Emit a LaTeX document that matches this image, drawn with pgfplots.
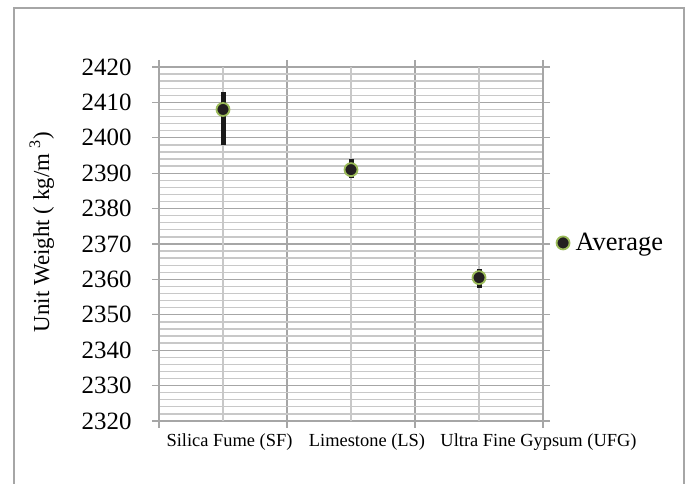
\documentclass[border=0pt]{standalone}
\usepackage{pgfplots}
\pgfplotsset{compat=1.18}
\usepackage{fontspec}
\setmainfont{Liberation Serif}
\definecolor{majgrid}{HTML}{A6A6A6}
\definecolor{mingrid}{HTML}{C8C8C8}
\definecolor{mkgreen}{HTML}{9BBB59}
\definecolor{mkfill}{HTML}{231F20}
\definecolor{barblack}{HTML}{1A1A1A}
\pgfplotstableread{
x y ep em
0 2408 5 10
1 2391 3 2.5
2 2360.5 2.5 3
}\avgdata
\begin{document}
\begin{tikzpicture}[x=1bp,y=1bp]
\useasboundingbox (0,0) rectangle (689,484);
\draw[majgrid, line width=1.5bp] (14,-5) -- (14,476) -- (684,476) -- (684,-5);
\begin{axis}[
  at={(159bp,63bp)}, anchor=south west,
  scale only axis, width=384bp, height=354bp,
  xmin=-0.5, xmax=2.5, ymin=2320, ymax=2420,
  xtick={-0.5,0.5,1.5,2.5}, xticklabels={},
  extra x ticks={0,1,2},
  extra x tick labels={},
  extra x tick style={grid=major, major grid style={mingrid, line width=1.3bp}, major tick length=0pt},
  ytick distance=10, minor y tick num=4,
  grid=both,
  major grid style={majgrid, line width=1.3bp},
  minor grid style={mingrid, line width=1.3bp},
  minor tick length=0pt,
  major tick length=7bp,
  tick align=outside,
  tick style={majgrid, line width=1.3bp},
  axis line style={majgrid, line width=1.3bp},
  clip=false,
  /pgf/number format/assume math mode=true,
  /pgf/number format/set thousands separator={},
  yticklabel style={font=\fontsize{25}{30}\selectfont, xshift=-17bp},
  ylabel={Unit Weight (\ kg/m\ \textsuperscript{3})},
  ylabel style={font=\fontsize{23}{27}\selectfont, at={(axis description cs:-0.305,0.534)}, anchor=center},
  legend entries={\hspace{4bp}Average},
  legend style={draw=none, fill=none, at={(axis description cs:1.027,0.503)}, anchor=west, font=\fontsize{26.5}{30}\selectfont},
]
\addplot[only marks, mark=*, mark size=6.5bp, mark options={fill=mkfill, draw=mkgreen, line width=1.8bp},
  error bars/.cd, y dir=both, y explicit, error bar style={line width=5bp, color=barblack}, error mark=none]
  table[x=x, y=y, y error plus=ep, y error minus=em] {\avgdata};
\node[anchor=base, font=\fontsize{18.5}{22}\selectfont, inner sep=0pt] at ([yshift=-26bp]axis cs:0.051,2320) {Silica Fume (SF)};
\node[anchor=base, font=\fontsize{18.5}{22}\selectfont, inner sep=0pt] at ([yshift=-26bp]axis cs:1.125,2320) {Limestone (LS)};
\node[anchor=base, font=\fontsize{18.5}{22}\selectfont, inner sep=0pt] at ([yshift=-26bp]axis cs:2.465,2320) {Ultra Fine Gypsum (UFG)};
\end{axis}
\end{tikzpicture}
\end{document}
